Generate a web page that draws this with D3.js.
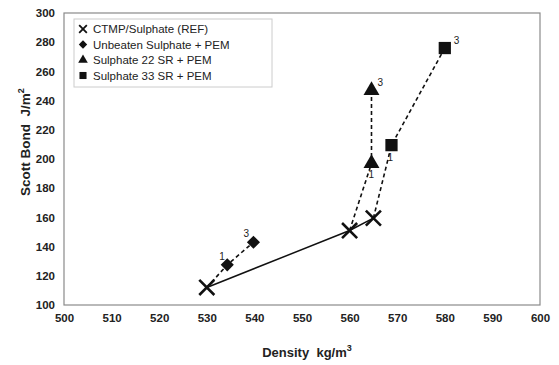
<!DOCTYPE html>
<html>
<head>
<meta charset="utf-8">
<script src="https://cdn.jsdelivr.net/npm/d3@7"></script>
<style>
  body { margin: 0; background: #fff; }
  svg { font-family: "Liberation Sans", Arial, sans-serif; }
  .tick text { font-weight: bold; font-size: 11.5px; fill: #222; }
  .title { white-space: pre; }
</style>
</head>
<body>
<svg id="chart" width="559" height="365"></svg>
<script>
// Series data: [density, scott bond]
const refSeries = [[530, 112], [560, 151], [565, 159.5]];
const unbeaten = [[534.3, 127.5], [539.8, 143]];
const sr22 = [[564.6, 197], [564.6, 247]];
const sr33 = [[568.8, 209.5], [580, 276]];
const pointLabels = ["1", "3"];
const xTicks = [500, 510, 520, 530, 540, 550, 560, 570, 580, 590, 600];
const yTicks = [100, 120, 140, 160, 180, 200, 220, 240, 260, 280, 300];
const legendNames = ["CTMP/Sulphate (REF)", "Unbeaten Sulphate + PEM", "Sulphate 22 SR + PEM", "Sulphate 33 SR + PEM"];

const svg = d3.select("#chart");
const margin = {top: 13, right: 19, bottom: 60, left: 64};
const width = 559 - margin.left - margin.right;
const height = 365 - margin.top - margin.bottom;

const g = svg.append("g")
    .attr("transform", "translate(" + margin.left + "," + margin.top + ")");

const x = d3.scaleLinear().domain([500, 600]).range([0, width]);
const y = d3.scaleLinear().domain([100, 300]).range([height, 0]);

// plot frame
g.append("rect")
    .attr("width", width)
    .attr("height", height)
    .attr("fill", "none")
    .attr("stroke", "#8a8a8a")
    .attr("stroke-width", 1.2);

// axes, no tick marks
const xAxis = g.append("g")
    .attr("transform", "translate(0," + height + ")")
    .call(d3.axisBottom(x).tickValues(xTicks).tickSize(0).tickPadding(9));
xAxis.select(".domain").remove();

const yAxis = g.append("g")
    .call(d3.axisLeft(y).tickValues(yTicks).tickSize(0).tickPadding(9));
yAxis.select(".domain").remove();

// axis titles
const xt = svg.append("text")
    .attr("class", "title")
    .attr("x", 307)
    .attr("y", 357)
    .attr("text-anchor", "middle")
    .attr("font-weight", "bold")
    .attr("font-size", 13)
    .attr("fill", "#222");
xt.append("tspan").text("Density  kg/m");
xt.append("tspan").attr("font-size", 9).attr("dy", -6).text("3");

const yt = svg.append("text")
    .attr("class", "title")
    .attr("transform", "translate(30,142) rotate(-90)")
    .attr("text-anchor", "middle")
    .attr("font-weight", "bold")
    .attr("font-size", 13.5)
    .attr("fill", "#222");
yt.append("tspan").text("Scott Bond  J/m");
yt.append("tspan").attr("font-size", 9).attr("dy", -6).text("2");

const line = d3.line().x(d => x(d[0])).y(d => y(d[1]));

// solid reference line
g.append("path")
    .attr("d", line(refSeries))
    .attr("fill", "none")
    .attr("stroke", "#111")
    .attr("stroke-width", 1.5);

// dashed branches, each starting from a reference point
const branches = [
    [refSeries[0]].concat(unbeaten),
    [refSeries[1]].concat(sr22),
    [refSeries[2]].concat(sr33)
];
branches.forEach(b => {
    g.append("path")
        .attr("d", line(b))
        .attr("fill", "none")
        .attr("stroke", "#111")
        .attr("stroke-width", 1.6)
        .attr("stroke-dasharray", "4,3");
});

// marker symbols
const symX = d3.symbol().type(d3.symbolTimes).size(150);
const symDiamond = d3.symbol().type(d3.symbolDiamond2).size(110);
const symTri = d3.symbol().type(d3.symbolTriangle).size(110);
const symSquare = d3.symbol().type(d3.symbolSquare).size(150);

g.selectAll(".ref")
    .data(refSeries)
    .enter().append("path")
    .attr("transform", d => "translate(" + x(d[0]) + "," + y(d[1]) + ")")
    .attr("d", symX)
    .attr("fill", "none")
    .attr("stroke", "#111")
    .attr("stroke-width", 2.6);

function drawMarkers(data, sym) {
    g.selectAll(null)
        .data(data)
        .enter().append("path")
        .attr("transform", d => "translate(" + x(d[0]) + "," + y(d[1]) + ")")
        .attr("d", sym)
        .attr("fill", "#111");
}
drawMarkers(unbeaten, symDiamond);
drawMarkers(sr22, symTri);
drawMarkers(sr33, symSquare);

// "1" and "3" labels beside the points
function drawLabels(data, offsets) {
    g.selectAll(null)
        .data(data)
        .enter().append("text")
        .attr("x", (d, i) => x(d[0]) + offsets[i][0])
        .attr("y", (d, i) => y(d[1]) + offsets[i][1])
        .attr("font-size", 10)
        .attr("fill", "#222")
        .text((d, i) => pointLabels[i]);
}
drawLabels(unbeaten, [[-8, -5], [-10, -5]]);
drawLabels(sr22, [[-3, 15], [6, -4]]);
drawLabels(sr33, [[-4, 16], [9, -4]]);

// legend
const legend = svg.append("g").attr("transform", "translate(74,19)");
legend.append("rect")
    .attr("width", 198)
    .attr("height", 68)
    .attr("fill", "#fff")
    .attr("stroke", "#ccc")
    .attr("stroke-width", 1);

const legendSyms = [
    d3.symbol().type(d3.symbolTimes).size(40),
    d3.symbol().type(d3.symbolDiamond2).size(45),
    d3.symbol().type(d3.symbolTriangle).size(40),
    d3.symbol().type(d3.symbolSquare).size(50)
];
legendNames.forEach((name, i) => {
    const row = legend.append("g").attr("transform", "translate(9," + (10 + i * 15.5) + ")");
    const p = row.append("path").attr("d", legendSyms[i]);
    if (i === 0) p.attr("fill", "none").attr("stroke", "#111").attr("stroke-width", 1.8);
    else p.attr("fill", "#111");
    row.append("text")
        .attr("x", 10)
        .attr("y", 4)
        .attr("font-size", 11.5)
        .attr("fill", "#222")
        .text(name);
});
</script>
</body>
</html>
